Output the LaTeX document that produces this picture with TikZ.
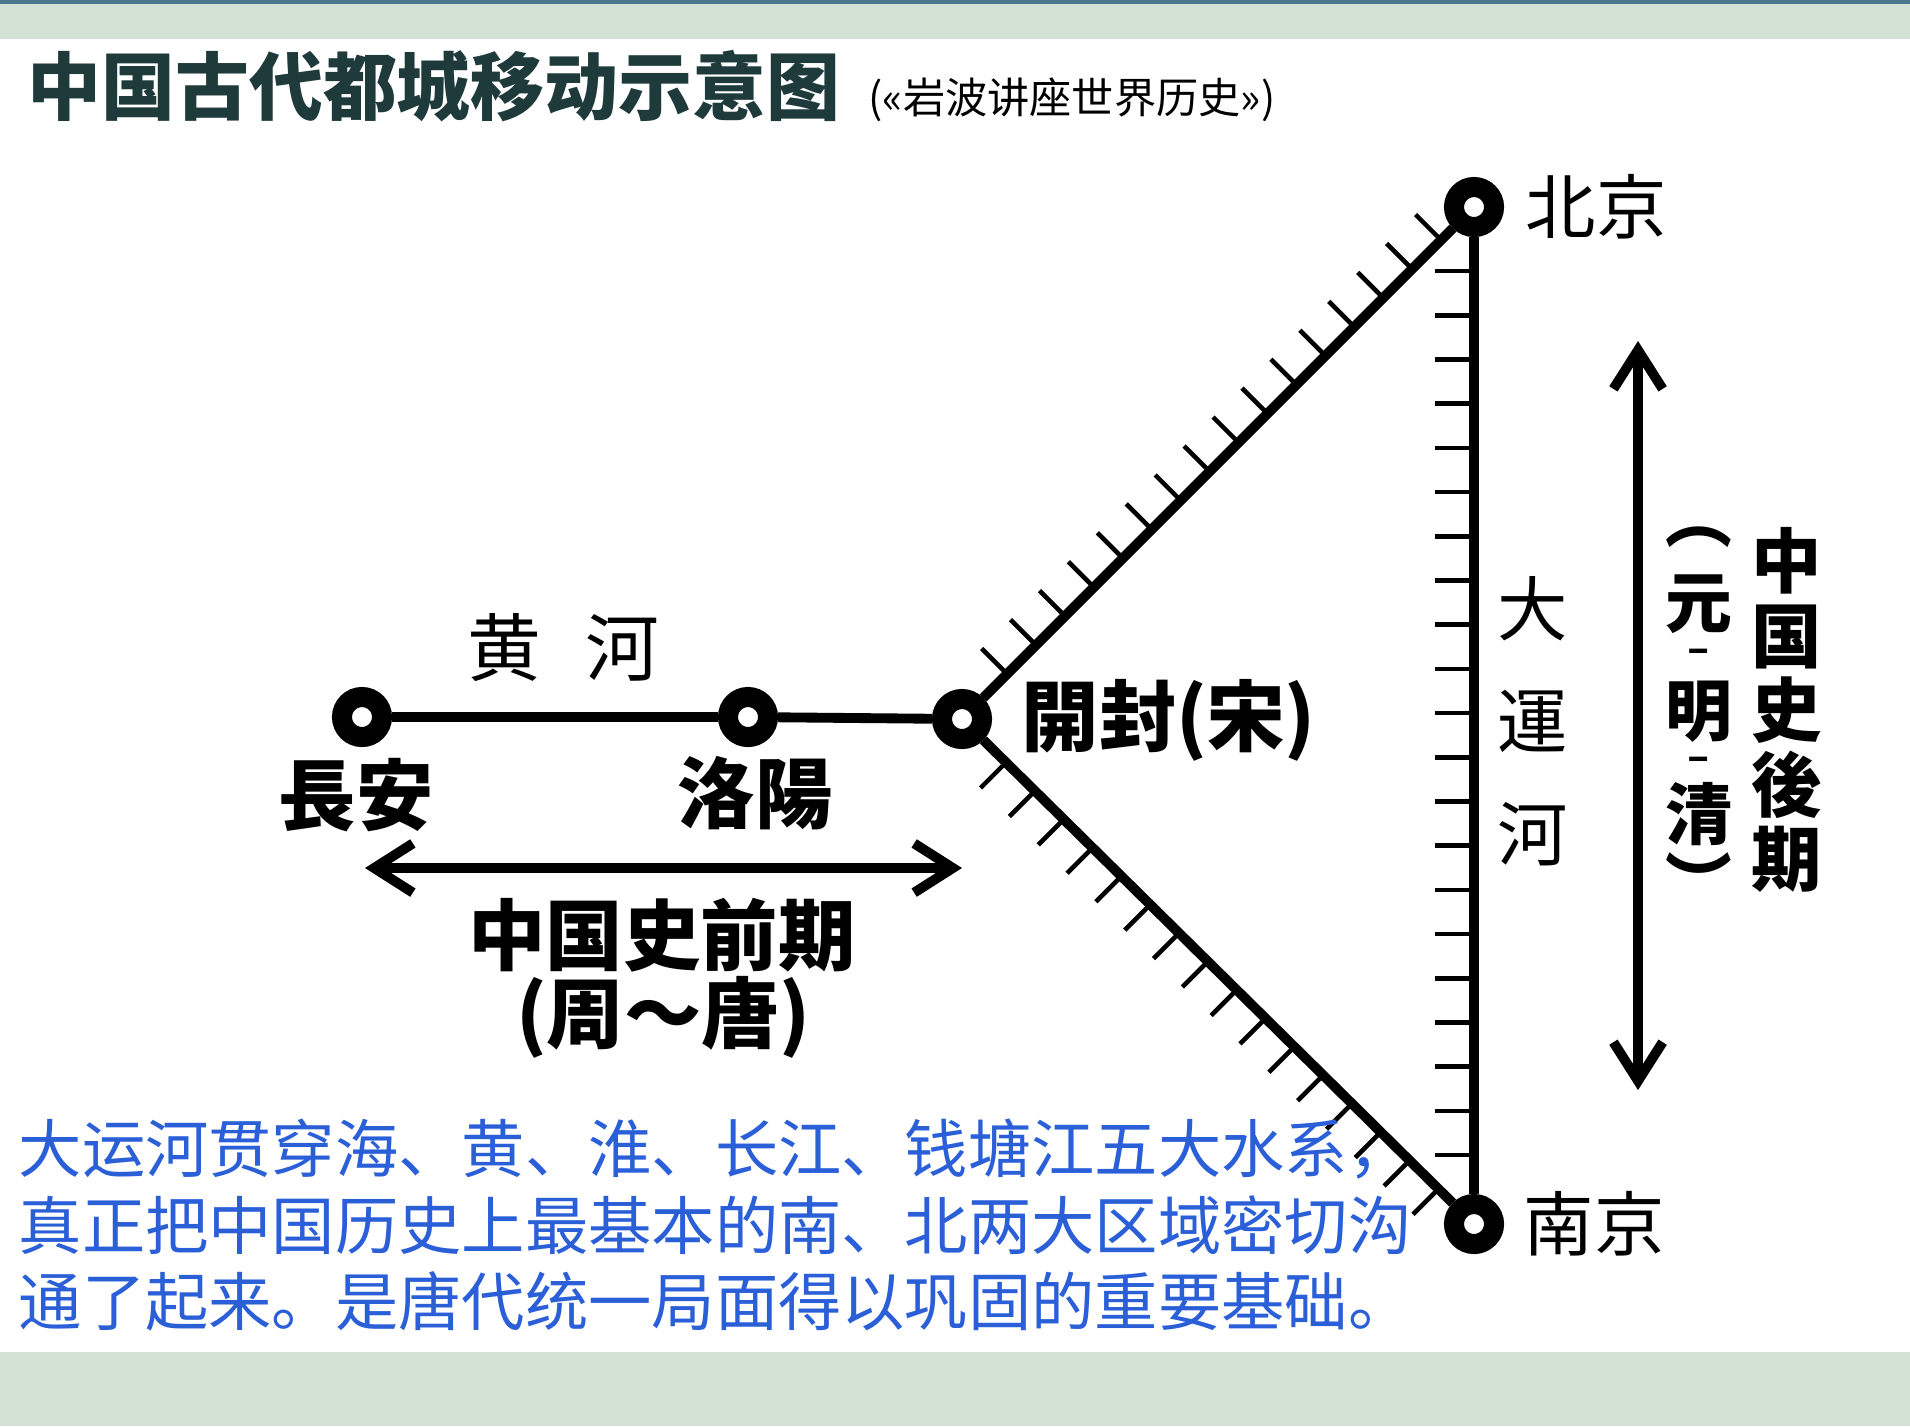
\documentclass[tikz,border=0pt]{standalone}
\usepackage{graphicx}
\usepackage{fontspec}
\newfontfamily\jpfont{Noto Sans CJK JP}
\newfontfamily\scfont{Noto Sans CJK SC}
\usetikzlibrary{arrows.meta,calc,positioning}
\definecolor{bandgreen}{RGB}{211,226,212}
\definecolor{bandline}{RGB}{74,118,144}
\definecolor{titleC}{RGB}{30,58,58}
\definecolor{noteblue}{RGB}{42,95,216}
\tikzset{
  city/.style={circle, draw, fill=white, line width=5.7pt,
               minimum size=0.40cm, inner sep=0pt},
  river/.style={line width=2.8pt},
  hatch/.style={line width=1.3pt},
  period/.style={line width=2.8pt,
                 {Straight Barb[length=11pt,width=14pt]}-{Straight Barb[length=11pt,width=14pt]}},
  cityname/.style={font={\jpfont\bfseries\fontsize{22pt}{26pt}\selectfont}, inner sep=0pt},
  thinname/.style={font={\jpfont\fontsize{20pt}{32pt}\selectfont}, inner sep=0pt, align=center},
  erablock/.style={font={\jpfont\bfseries\fontsize{22pt}{26pt}\selectfont}, inner sep=0pt, align=center},
  erachar/.style={font={\jpfont\bfseries\fontsize{19pt}{22pt}\selectfont}, inner sep=0pt},
  erasep/.style={font={\jpfont\bfseries\fontsize{10pt}{12pt}\selectfont}, inner sep=0pt},
}

\begin{document}
\begin{tikzpicture}[x=0.01cm, y=-0.01cm]
  \useasboundingbox (0,0) rectangle (1910,1426);
  % slide bands
  \fill[bandgreen] (0,0) rectangle (1910,39);
  \fill[bandline] (0,0) rectangle (1910,4);
  \fill[bandgreen] (0,1352) rectangle (1910,1426);
  % title
  \node[anchor=base west, inner sep=0pt, text=titleC,
        font={\scfont\bfseries\fontsize{21pt}{25pt}\selectfont}] (title) at (27,114) {中国古代都城移动示意图};
  \node[anchor=base west, inner sep=0pt,
        font={\scfont\fontsize{12pt}{14pt}\selectfont}] (source) at (868,113) {(«岩波讲座世界历史»)};
  % capitals
  \node[city] (changan) at (362,717) {};
  \node[city] (luoyang) at (748,717) {};
  \node[city] (kaifeng) at (962,719) {};
  \node[city] (beijing) at (1474,207) {};
  \node[city] (nanjing) at (1474,1224) {};
  % rivers and canal
  \draw[river] (changan) -- (luoyang);
  \draw[river] (luoyang) -- (kaifeng);
  \draw[river] (kaifeng) -- (beijing);
  \draw[river] (kaifeng) -- (nanjing);
  \draw[river] (beijing) -- (nanjing);
  \foreach \k in {0,...,15}{
    \draw[hatch] ($(kaifeng.center)!{0.088+0.0565*\k}!(beijing.center)$) -- ++(-25.5,-25.5);
    \draw[hatch] ($(kaifeng.center)!{0.086+0.0563*\k}!(nanjing.center)$) -- ++(-25.5,25.5);
  }
  \foreach \k in {0,...,20}
    \draw[hatch] ($(beijing.center)!{0.063+0.04345*\k}!(nanjing.center)$) -- ++(-39,0);
  % names
  \node[cityname] (changanL) at (356,795) {長安};
  \node[cityname] (luoyangL) at (755,793) {洛陽};
  \node[cityname, anchor=west] (kaifengL) at (1021,720) {開封(宋)};
  \node[cityname, anchor=west, font={\jpfont\fontsize{20pt}{24pt}\selectfont}] (beijingL) at (1525,207) {北京};
  \node[cityname, anchor=west, font={\jpfont\fontsize{20pt}{24pt}\selectfont}] (nanjingL) at (1523,1224) {南京};
  \node[thinname, font={\jpfont\fontsize{21pt}{25pt}\selectfont}] (huanghe) at (563,648) {黄\hspace{0.6em}河};
  \node[thinname] (canal) at (1533,721) {大\\運\\河};
  % periods
  \coordinate (earlyW) at (365,868);
  \coordinate (earlyE) at (962,868);
  \draw[period] (earlyW) -- (earlyE);
  \node[erablock] (early) at (662,935) {中国史前期};
  \node[erablock] (earlyD) at (663,1017) {(周～唐)};
  \coordinate (lateN) at (1638,341);
  \coordinate (lateS) at (1638,1090);
  \draw[period] (lateN) -- (lateS);
  \foreach \ch/\y [count=\i] in {︵/537, 元/604, 明/712, 清/814, ︶/881}
    \node[erachar] (lateD\i) at (1699,\y) {\ch};
  \foreach \y [count=\i] in {655,763}
    \node[erasep] (lateS\i) at (1699,\y) {\scalebox{1.8}[1]{-}};
  \node[erablock, font={\jpfont\bfseries\fontsize{20pt}{21.2pt}\selectfont}] (late) at (1787,710) {中\\国\\史\\後\\期};
  % note
  \node[anchor=north west, inner sep=0pt, align=left, text=noteblue,
        font={\scfont\fontsize{18pt}{21.8pt}\selectfont}] (note) at (18,1118)
    {大运河贯穿海、黄、淮、长江、钱塘江五大水系，\\
     真正把中国历史上最基本的南、北两大区域密切沟\\
     通了起来。是唐代统一局面得以巩固的重要基础。};
\end{tikzpicture}
\end{document}
